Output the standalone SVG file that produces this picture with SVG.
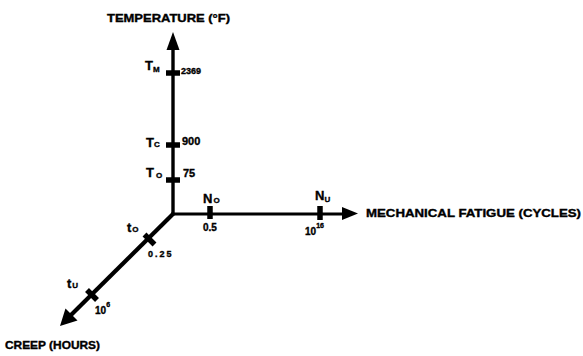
<svg xmlns="http://www.w3.org/2000/svg" width="583" height="356" viewBox="0 0 583 356">
<style>
  .ax { stroke:#000; fill:none; stroke-linecap:butt; }
  .head { fill:#000; stroke:none; }
  .tick { stroke:#000; stroke-width:5.5; }
  text { font-family:"Liberation Sans", Arial, sans-serif; fill:#000; font-weight:bold; stroke:#000; stroke-width:0.35; }
  .title { font-size:10.5px; }
  .lab { font-size:13px; }
  .sub { font-size:8px; }
  .num { font-size:10px; }
</style>
<rect width="583" height="356" fill="#fff"/>
<g id="connectors">
  <line class="ax" x1="173" y1="215" x2="173" y2="46" stroke-width="3.4"/>
  <polygon class="head" points="173,32 166.5,50 179.5,50"/>
  <line class="ax" x1="171.5" y1="214" x2="345" y2="214" stroke-width="2.8"/>
  <polygon class="head" points="358,213.5 342,207 342,220"/>
  <line class="ax" x1="174" y1="213" x2="70" y2="316" stroke-width="4.2"/>
  <polygon class="head" points="60,326 65.5,308.5 77.5,320.5"/>
</g>
<g id="ticks">
  <line class="tick" x1="166" y1="73" x2="180" y2="73"/>
  <line class="tick" x1="166" y1="145" x2="180" y2="145"/>
  <line class="tick" x1="166" y1="180" x2="180" y2="180"/>
  <line class="tick" x1="210" y1="206" x2="210" y2="219"/>
  <line class="tick" x1="320" y1="206" x2="320" y2="220"/>
  <line class="tick" x1="144.5" y1="234.5" x2="154.5" y2="244.5" stroke-width="6.5"/>
  <line class="tick" x1="87" y1="290" x2="97" y2="300" stroke-width="6.5"/>
</g>
<g id="axis-temperature">
  <text class="title" x="107" y="22" textLength="123" lengthAdjust="spacingAndGlyphs">TEMPERATURE (°F)</text>
  <text class="lab" x="145" y="70">T<tspan class="sub" dy="2">M</tspan></text>
  <text class="num" x="181" y="74" style="font-size:9px">2369</text>
  <text class="lab" x="146" y="147">T<tspan class="sub" dy="0">C</tspan></text>
  <text class="num" x="182" y="145" style="font-size:11px">900</text>
  <text class="lab" x="146" y="177">T<tspan class="sub" dy="1" dx="2">O</tspan></text>
  <text class="num" x="183" y="177" style="font-size:11px">75</text>
</g>
<g id="axis-fatigue">
  <text class="title" x="366" y="217" textLength="215" lengthAdjust="spacingAndGlyphs">MECHANICAL FATIGUE (CYCLES)</text>
  <text class="lab" x="203" y="203">N<tspan class="sub" dy="0" dx="1">O</tspan></text>
  <text class="num" x="203" y="231">0.5</text>
  <text class="lab" x="315" y="200">N<tspan class="sub" dy="2">U</tspan></text>
  <text class="num" x="305" y="235">10<tspan class="sub" dy="-7" style="font-size:7px">16</tspan></text>
</g>
<g id="axis-creep">
  <text class="title" x="5" y="349" textLength="95" lengthAdjust="spacingAndGlyphs">CREEP (HOURS)</text>
  <text class="lab" x="127" y="232">t<tspan class="sub" dy="0" dx="1">O</tspan></text>
  <text class="num" x="148" y="257" letter-spacing="2" style="font-size:9px">0.25</text>
  <text class="lab" x="67" y="288">t<tspan class="sub" dy="0" dx="1">U</tspan></text>
  <text class="num" x="95" y="314">10<tspan class="sub" dy="-7" style="font-size:7px">6</tspan></text>
</g>
</svg>
